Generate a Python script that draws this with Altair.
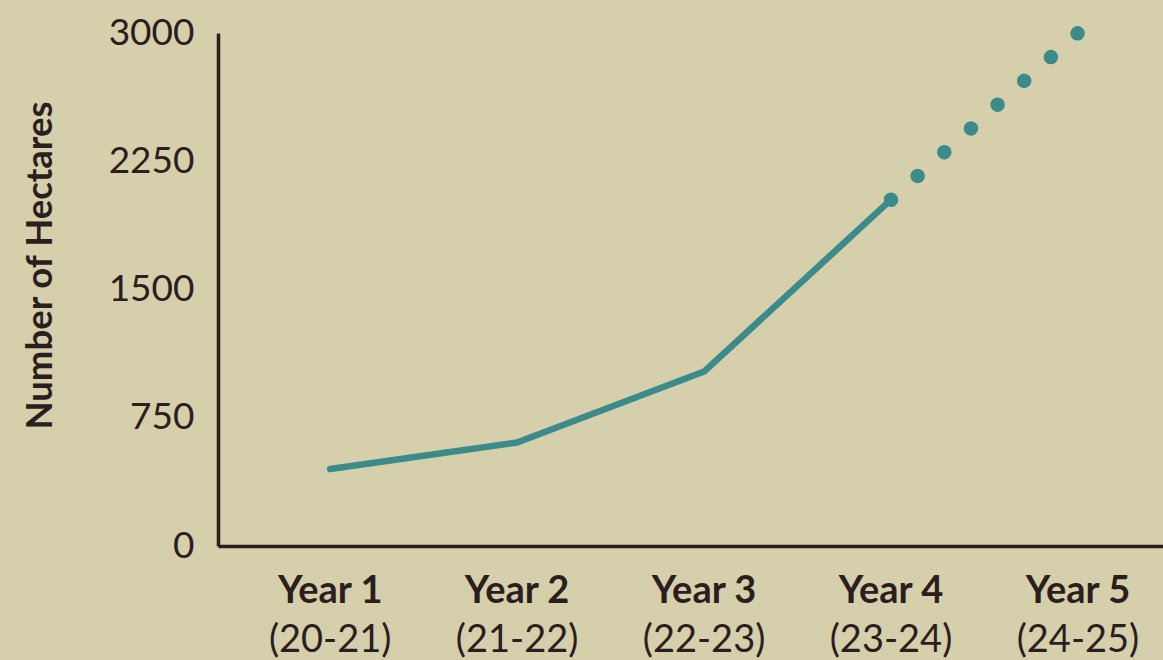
import altair as alt
import pandas as pd

# ---- data ----
categories = ["Year 1", "Year 2", "Year 3", "Year 4", "Year 5"]
periods = ["(20-21)", "(21-22)", "(22-23)", "(23-24)", "(24-25)"]
hectares = [450, 605, 1020, 2025, 3000]
actual_idx = [0, 1, 2, 3]      # solid line
projected_idx = [3, 4]         # dotted line
y_ticks = [0, 750, 1500, 2250, 3000]

BG = "#d6cfab"
TEAL = "#3a8b89"
DARK = "#2b1e1e"
FONT = "Lato"

rows = []
for i in actual_idx:
    rows.append({"idx": i + 1, "value": hectares[i], "segment": "actual"})
for i in projected_idx:
    rows.append({"idx": i + 1, "value": hectares[i], "segment": "projected"})
df = pd.DataFrame(rows)

labels = pd.DataFrame({"idx": [i + 1 for i in range(len(categories))],
                       "category": categories, "period": periods})

W, H = 945, 513

xscale = alt.Scale(domain=[0.4, 5.455], nice=False, zero=False)
yscale = alt.Scale(domain=[0, 3000], nice=False)

base = alt.Chart(df).encode(
    x=alt.X("idx:Q", scale=xscale,
            axis=alt.Axis(labels=False, ticks=False, grid=False, title=None,
                          domainColor=DARK, domainWidth=3.5)),
    y=alt.Y("value:Q", scale=yscale,
            axis=alt.Axis(values=y_ticks, format="d", ticks=False, grid=False,
                          labelFontSize=37, labelColor=DARK, labelFont=FONT,
                          labelPadding=24, domainColor=DARK, domainWidth=3.5,
                          title="Number of Hectares", titleFont=FONT,
                          titleFontSize=36.5, titleFontWeight="bold",
                          titleColor=DARK, titleAngle=-90,
                          titleX=-178, titleY=232, titleAlign="center",
                          titleBaseline="middle")),
)

solid = base.transform_filter(alt.datum.segment == "actual").mark_line(
    color=TEAL, strokeWidth=6.5, strokeCap="round", strokeJoin="round")

dotted = base.transform_filter(alt.datum.segment == "projected").mark_line(
    color=TEAL, strokeWidth=14.5, strokeCap="round", strokeDash=[0.01, 35.7])

lab1 = alt.Chart(labels).mark_text(
    font=FONT, fontSize=38, fontWeight="bold", color=DARK, baseline="middle"
).encode(x=alt.X("idx:Q", scale=xscale), y=alt.value(559), text="category:N")

lab2 = alt.Chart(labels).mark_text(
    font=FONT, fontSize=38, color=DARK, baseline="middle"
).encode(x=alt.X("idx:Q", scale=xscale), y=alt.value(608), text="period:N")

chart = alt.layer(solid, dotted, lab1, lab2).properties(
    width=W, height=H,
    autosize=alt.AutoSizeParams(type="none"),
    padding={"left": 218, "top": 33, "right": 0, "bottom": 114},
    background=BG,
).configure_view(stroke=None)

chart.save("out.html", embed_options={"renderer": "svg", "actions": False})
